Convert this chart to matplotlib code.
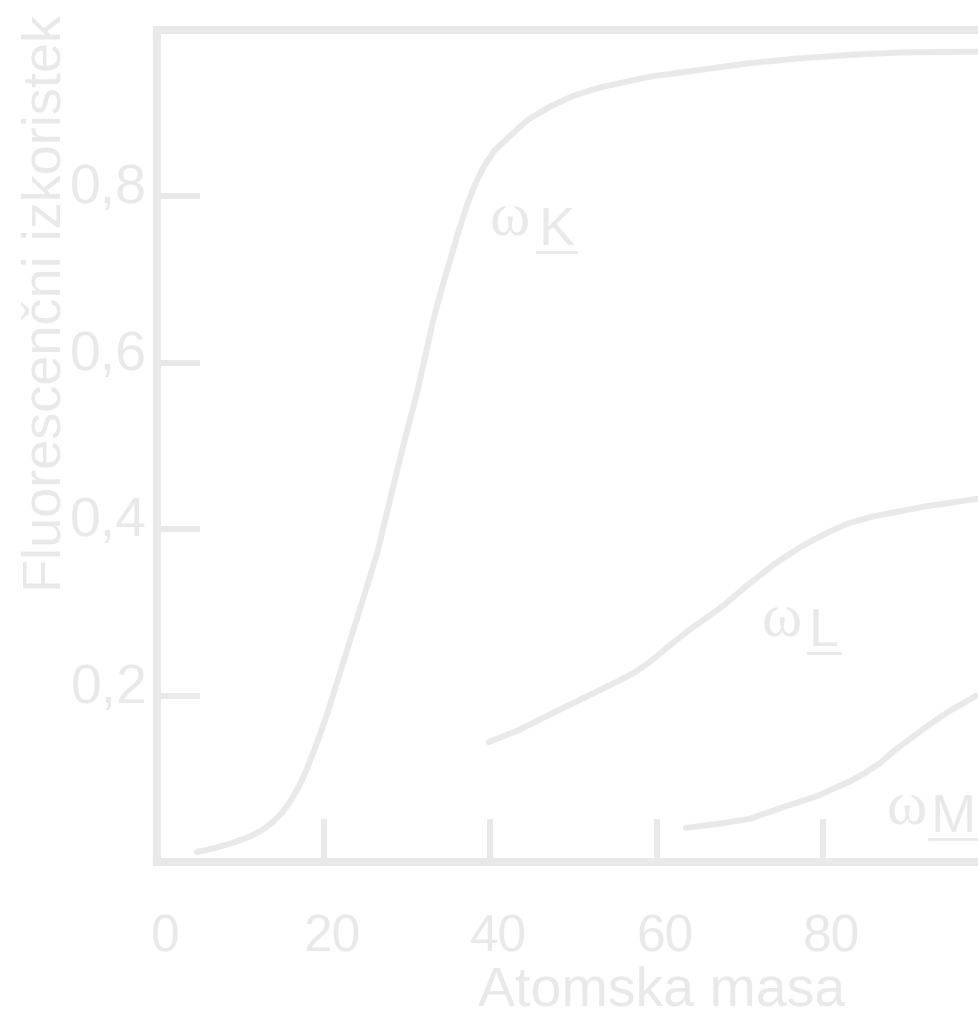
import matplotlib
matplotlib.use('Agg')
import matplotlib.pyplot as plt
from matplotlib import font_manager
from matplotlib.lines import Line2D
from matplotlib.transforms import ScaledTranslation

# fluorescence yield curves (atomic mass, yield)
mass_k = [4.8, 7.0, 9.1, 11.0, 12.6, 13.8, 15.0, 16.0, 17.0, 18.0, 19.2, 20.4,
          21.8, 23.2, 24.8, 26.4, 27.8, 29.2, 30.2, 31.2, 32.2, 33.2, 34.2, 35.2,
          36.2, 37.2, 38.2, 39.2, 40.5, 42.4, 44.5, 47.2, 50.0, 53.2, 59.2, 65.2,
          71.0, 77.2, 83.0, 89.2, 98.7]
omega_k = [0.012, 0.017, 0.023, 0.030, 0.038, 0.047, 0.059, 0.073, 0.090, 0.112,
           0.143, 0.177, 0.222, 0.267, 0.318, 0.370, 0.428, 0.486, 0.525, 0.563,
           0.608, 0.653, 0.690, 0.724, 0.758, 0.789, 0.815, 0.835, 0.855, 0.873,
           0.892, 0.908, 0.921, 0.931, 0.944, 0.952, 0.960, 0.966, 0.970, 0.973,
           0.974]

mass_l = [39.8, 43.3, 47.3, 51.4, 55.5, 57.2, 58.7, 60.1, 61.5, 64.3, 67.6, 70.8,
          74.1, 77.3, 80.5, 83.0, 85.8, 92.0, 98.8]
omega_l = [0.144, 0.158, 0.178, 0.198, 0.218, 0.227, 0.237, 0.248, 0.260, 0.282,
           0.305, 0.332, 0.358, 0.379, 0.396, 0.407, 0.415, 0.427, 0.437]

mass_m = [63.5, 67.5, 71.2, 75.2, 79.2, 83.2, 85.0, 86.8, 88.8, 92.0, 95.2, 98.4]
omega_m = [0.041, 0.046, 0.052, 0.066, 0.079, 0.097, 0.107, 0.119, 0.136, 0.160,
           0.182, 0.200]

xticks = [0, 20, 40, 60, 80]
xticklabels = ['0', '20', '40', '60', '80']
yticks = [0.2, 0.4, 0.6, 0.8]
yticklabels = ['0,2', '0,4', '0,6', '0,8']

gray = '#e9e9e9'
sans = 'Liberation Sans'
serif = 'Liberation Serif'
names = {f.name for f in font_manager.fontManager.ttflist}
if 'Liberation Sans Narrow' in names:
    narrow, narrow_size = 'Liberation Sans Narrow', 48
else:
    narrow, narrow_size = sans, 40

W, H = 979, 1020
fig = plt.figure(figsize=(W / 100, H / 100), dpi=100)
ax = fig.add_axes([157 / W, 157 / H, 833 / W, 832 / H])

for m, w in [(mass_k, omega_k), (mass_l, omega_l), (mass_m, omega_m)]:
    ax.plot(m, w, color=gray, lw=4.3, solid_capstyle='round', solid_joinstyle='round')

ax.set_xlim(0, 100)
ax.set_ylim(0, 1)
for s in ax.spines.values():
    s.set_color(gray)
    s.set_linewidth(5.8)

ax.set_xticks(xticks)
ax.set_xticklabels(xticklabels, fontsize=37, family=sans)
ax.set_yticks(yticks)
ax.set_yticklabels(yticklabels, fontsize=40, family=sans)
ax.tick_params(direction='in', length=31, width=4.3, color=gray, labelcolor=gray)
ax.tick_params(axis='x', pad=36.5)
ax.tick_params(axis='y', pad=7)

dx = ScaledTranslation(8 / 100, 0, fig.dpi_scale_trans)
dy = ScaledTranslation(0, 14 / 100, fig.dpi_scale_trans)
for lab in ax.get_xticklabels():
    lab.set_transform(lab.get_transform() + dx)
for lab in ax.get_yticklabels():
    lab.set_transform(lab.get_transform() + dy)

fig.text(61 / W, 1 - 303 / H, 'Fluorescenčni izkoristek', rotation=90,
         rotation_mode='anchor', ha='center', va='baseline',
         fontsize=39, family=sans, color=gray)
fig.text(662 / W, 1 - 1006 / H, 'Atomska masa', ha='center', va='baseline',
         fontsize=narrow_size, family=narrow, color=gray)

# curve labels: omega + underlined shell letter
shells = [('K', 42.4, 0.755, 47.96, 0.743),
          ('L', 75.0, 0.273, 80.07, 0.261),
          ('M', 90.0, 0.048, 95.56, 0.0373)]
letters = []
for name, wx, wy, lx, ly in shells:
    ax.text(wx, wy, 'ω', ha='center', va='baseline', fontsize=44,
            family=serif, color=gray, clip_on=False)
    t = ax.text(lx, ly, name, ha='center', va='baseline', fontsize=39,
                family=sans, color=gray, clip_on=False)
    letters.append((t, ly))

fig.canvas.draw()
r = fig.canvas.get_renderer()
for t, ly in letters:
    bb = t.get_window_extent(r)
    base = ax.transData.transform((0, ly))[1]
    fig.add_artist(Line2D([bb.x0 - 1, bb.x1 + 1], [base - 8, base - 8],
                          transform=None, color=gray, lw=2))

fig.savefig('out.png', dpi=100)
